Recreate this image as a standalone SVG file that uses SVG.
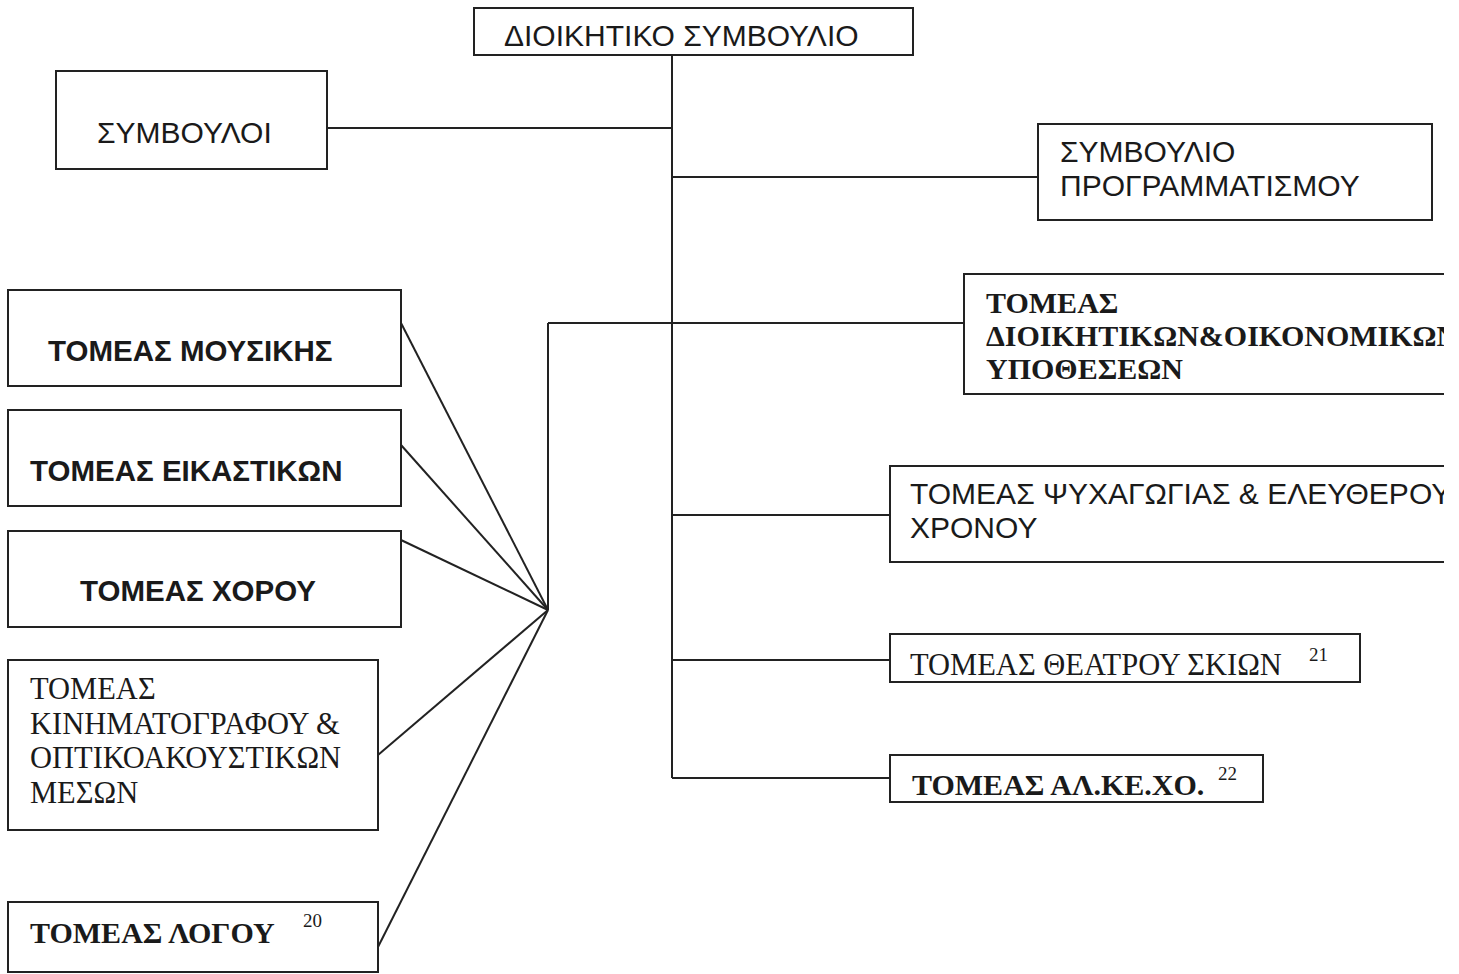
<svg xmlns="http://www.w3.org/2000/svg" width="1459" height="974" viewBox="0 0 1459 974">
<style>
.box{fill:#fff;stroke:#222;stroke-width:2}
.ln{fill:none;stroke:#222;stroke-width:2}
.sans{font-family:"Liberation Sans",Arial,sans-serif;font-size:30px;fill:#1a1a1a}
.sansb{font-family:"Liberation Sans",Arial,sans-serif;font-size:29.5px;font-weight:bold;fill:#1a1a1a}
.serif{font-family:"Liberation Serif","Times New Roman",serif;font-size:30.5px;fill:#1a1a1a}
.serifb{font-family:"Liberation Serif","Times New Roman",serif;font-size:30px;font-weight:bold;fill:#1a1a1a}
.sup{font-family:"Liberation Serif","Times New Roman",serif;font-size:19px;fill:#1a1a1a}
</style>
<defs>
<clipPath id="clipR"><rect x="0" y="0" width="1444" height="974"/></clipPath>
</defs>
<rect x="0" y="0" width="1459" height="974" fill="#fff"/>
<g id="connectors">
<line class="ln" x1="672" y1="55" x2="672" y2="778"/>
<line class="ln" x1="327" y1="128" x2="672" y2="128"/>
<line class="ln" x1="672" y1="177" x2="1038" y2="177"/>
<line class="ln" x1="548" y1="323" x2="964" y2="323"/>
<line class="ln" x1="548" y1="323" x2="548" y2="610"/>
<line class="ln" x1="672" y1="515" x2="890" y2="515"/>
<line class="ln" x1="672" y1="660" x2="890" y2="660"/>
<line class="ln" x1="672" y1="778" x2="890" y2="778"/>
<line class="ln" x1="401" y1="323" x2="548" y2="610"/>
<line class="ln" x1="401" y1="445" x2="548" y2="610"/>
<line class="ln" x1="401" y1="540" x2="548" y2="610"/>
<line class="ln" x1="378" y1="755" x2="548" y2="610"/>
<line class="ln" x1="378" y1="947" x2="548" y2="610"/>
</g>
<g id="dioikitiko">
<rect class="box" x="474" y="8" width="439" height="47"/>
<text class="sans" x="504" y="46">ΔΙΟΙΚΗΤΙΚΟ ΣΥΜΒΟΥΛΙΟ</text>
</g>
<g id="symvouloi">
<rect class="box" x="56" y="71" width="271" height="98"/>
<text class="sans" x="97" y="143">ΣΥΜΒΟΥΛΟΙ</text>
</g>
<g id="programmatismou">
<rect class="box" x="1038" y="124" width="394" height="96"/>
<text class="sans" x="1060" y="162">ΣΥΜΒΟΥΛΙΟ</text>
<text class="sans" x="1060" y="196">ΠΡΟΓΡΑΜΜΑΤΙΣΜΟΥ</text>
</g>
<g id="dioikitikon" clip-path="url(#clipR)">
<rect class="box" x="964" y="274" width="520" height="120"/>
<text class="serifb" x="986" y="313">ΤΟΜΕΑΣ</text>
<text class="serifb" x="986" y="346">ΔΙΟΙΚΗΤΙΚΩΝ&amp;ΟΙΚΟΝΟΜΙΚΩΝ</text>
<text class="serifb" x="986" y="379">ΥΠΟΘΕΣΕΩΝ</text>
</g>
<g id="psychagogias" clip-path="url(#clipR)">
<rect class="box" x="890" y="466" width="600" height="96"/>
<text class="sans" x="910" y="504">ΤΟΜΕΑΣ ΨΥΧΑΓΩΓΙΑΣ &amp; ΕΛΕΥΘΕΡΟΥ</text>
<text class="sans" x="910" y="538">ΧΡΟΝΟΥ</text>
</g>
<g id="theatrou">
<rect class="box" x="890" y="634" width="470" height="48"/>
<text class="serif" x="910" y="675">ΤΟΜΕΑΣ ΘΕΑΤΡΟΥ ΣΚΙΩΝ</text>
<text class="sup" x="1309" y="661">21</text>
</g>
<g id="alkexo">
<rect class="box" x="890" y="755" width="373" height="47"/>
<text class="serifb" x="912" y="795">ΤΟΜΕΑΣ ΑΛ.ΚΕ.ΧΟ.</text>
<text class="sup" x="1218" y="780">22</text>
</g>
<g id="mousikis">
<rect class="box" x="8" y="290" width="393" height="96"/>
<text class="sansb" x="48" y="361">ΤΟΜΕΑΣ ΜΟΥΣΙΚΗΣ</text>
</g>
<g id="eikastikon">
<rect class="box" x="8" y="410" width="393" height="96"/>
<text class="sansb" x="30" y="481">ΤΟΜΕΑΣ ΕΙΚΑΣΤΙΚΩΝ</text>
</g>
<g id="chorou">
<rect class="box" x="8" y="531" width="393" height="96"/>
<text class="sansb" x="80" y="601">ΤΟΜΕΑΣ ΧΟΡΟΥ</text>
</g>
<g id="kinimatografou">
<rect class="box" x="8" y="660" width="370" height="170"/>
<text class="serif" x="30" y="699">ΤΟΜΕΑΣ</text>
<text class="serif" x="30" y="734">ΚΙΝΗΜΑΤΟΓΡΑΦΟΥ &amp;</text>
<text class="serif" x="30" y="768">ΟΠΤΙΚΟΑΚΟΥΣΤΙΚΩΝ</text>
<text class="serif" x="30" y="803">ΜΕΣΩΝ</text>
</g>
<g id="logou">
<rect class="box" x="8" y="902" width="370" height="70"/>
<text class="serifb" x="30" y="943">ΤΟΜΕΑΣ ΛΟΓΟΥ</text>
<text class="sup" x="303" y="927">20</text>
</g>
</svg>
